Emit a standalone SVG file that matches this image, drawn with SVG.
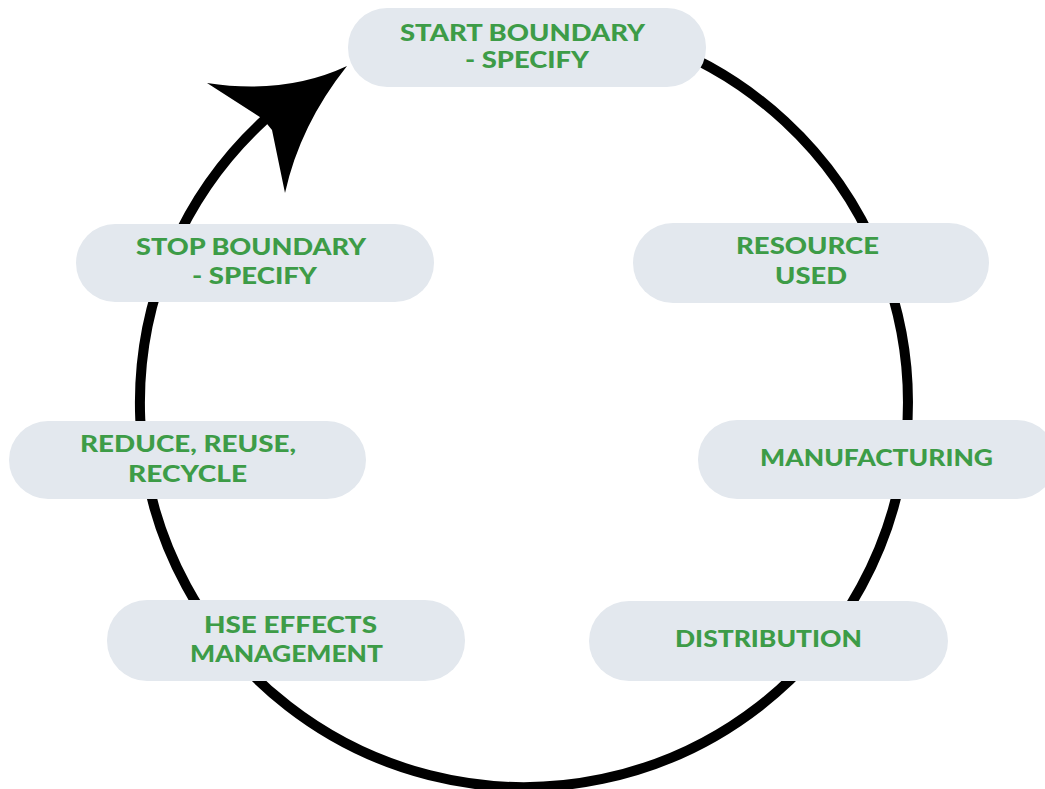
<svg xmlns="http://www.w3.org/2000/svg" width="1045" height="789" viewBox="0 0 1045 789">
  <style>
    .pill { fill: #e3e8ee; }
    .lbl { font-family: Lato, "Open Sans", "Liberation Sans", sans-serif; font-weight: 900; font-size: 22px; fill: #3d9c47; }
    .ring { fill: none; stroke: #000; stroke-width: 10; stroke-linecap: round; }
  </style>
  <rect width="1045" height="789" fill="#ffffff"/>
  <g id="connectors">
    <path class="ring" d="M 650 40.3 A 384 384 0 1 1 263.3 121"/>
    <path d="M 347 66 Q 285 95 207 83 L 263 119 L 272 130 L 285 193 Q 300 125 347 66 Z" fill="#000"/>
  </g>
  <g id="node-start">
    <rect class="pill" x="348" y="8" width="358" height="79" rx="39"/>
    <text class="lbl" x="400" y="41" textLength="245" lengthAdjust="spacingAndGlyphs">START BOUNDARY</text>
    <text class="lbl" x="465" y="68" textLength="124" lengthAdjust="spacingAndGlyphs">- SPECIFY</text>
  </g>
  <g id="node-resource">
    <rect class="pill" x="633" y="223" width="356" height="80" rx="40"/>
    <text class="lbl" x="736" y="254" textLength="143" lengthAdjust="spacingAndGlyphs">RESOURCE</text>
    <text class="lbl" x="775" y="284" textLength="72" lengthAdjust="spacingAndGlyphs">USED</text>
  </g>
  <g id="node-manufacturing">
    <rect class="pill" x="698" y="420" width="358" height="79" rx="39"/>
    <text class="lbl" x="760" y="466" textLength="233" lengthAdjust="spacingAndGlyphs">MANUFACTURING</text>
  </g>
  <g id="node-distribution">
    <rect class="pill" x="589" y="601" width="359" height="80" rx="40"/>
    <text class="lbl" x="675" y="647" textLength="187" lengthAdjust="spacingAndGlyphs">DISTRIBUTION</text>
  </g>
  <g id="node-hse">
    <rect class="pill" x="107" y="600" width="358" height="81" rx="40"/>
    <text class="lbl" x="204" y="633" textLength="173" lengthAdjust="spacingAndGlyphs">HSE EFFECTS</text>
    <text class="lbl" x="190" y="662" textLength="193" lengthAdjust="spacingAndGlyphs">MANAGEMENT</text>
  </g>
  <g id="node-reduce">
    <rect class="pill" x="9" y="421" width="357" height="78" rx="39"/>
    <text class="lbl" x="80" y="452" textLength="216" lengthAdjust="spacingAndGlyphs">REDUCE, REUSE,</text>
    <text class="lbl" x="128" y="482" textLength="119" lengthAdjust="spacingAndGlyphs">RECYCLE</text>
  </g>
  <g id="node-stop">
    <rect class="pill" x="76" y="224" width="358" height="78" rx="39"/>
    <text class="lbl" x="136" y="255" textLength="230" lengthAdjust="spacingAndGlyphs">STOP BOUNDARY</text>
    <text class="lbl" x="192" y="284" textLength="125" lengthAdjust="spacingAndGlyphs">- SPECIFY</text>
  </g>
</svg>
